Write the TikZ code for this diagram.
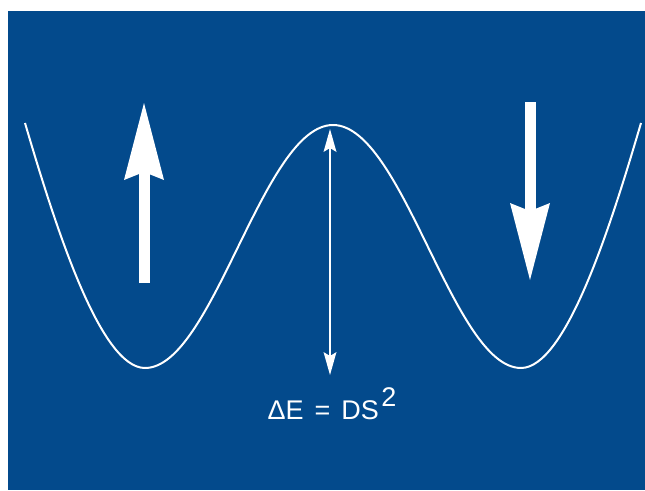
\documentclass[tikz,border=0pt]{standalone}
\usepackage{fontspec}
\setmainfont{Liberation Sans}
\usepackage{xcolor}
\usepackage{tikz}
\usetikzlibrary{arrows.meta}
\definecolor{slideblue}{RGB}{3,74,140}

\begin{document}
\begin{tikzpicture}[
  x=1pt,y=-1pt,
  well/.style={draw=white,line width=2pt},
  spin/.style={white,line width=11pt,-{Stealth[length=77pt,width=40pt,inset=8pt,line width=0pt]}},
  barrier/.style={white,line width=2pt,{Stealth[length=23pt,width=13pt,inset=4pt,line width=0pt]}-{Stealth[length=23pt,width=13pt,inset=4pt,line width=0pt]}},
  lbl/.style={text=white,inner sep=0pt,font=\fontsize{27}{32}\selectfont}
]
\fill[white] (0,0) rectangle (645,490);
\fill[slideblue] (8,11) rectangle (645,490);
% double well
\draw[well] (25,123) .. controls (55,225) and (100,368) .. (145,368)
  .. controls (213,368) and (263,125) .. (333,125)
  .. controls (403,125) and (453,368) .. (521,368)
  .. controls (566,368) and (611,225) .. (641,123);
% spins
\coordinate (upfoot) at (144,283); \coordinate (uptip) at (144,103);
\coordinate (dnfoot) at (530,102); \coordinate (dntip) at (530,280);
\draw[spin] (upfoot)--(uptip);
\draw[spin] (dnfoot)--(dntip);
% barrier height
\coordinate (top) at (330,129); \coordinate (bottom) at (330,375);
\draw[barrier] (top)--(bottom);
\node[lbl,anchor=base] (energy) at (332,419) {ΔE\hspace{11pt}=\hspace{11pt}DS\kern2.5pt\raisebox{13pt}{2}};
\end{tikzpicture}
\end{document}
